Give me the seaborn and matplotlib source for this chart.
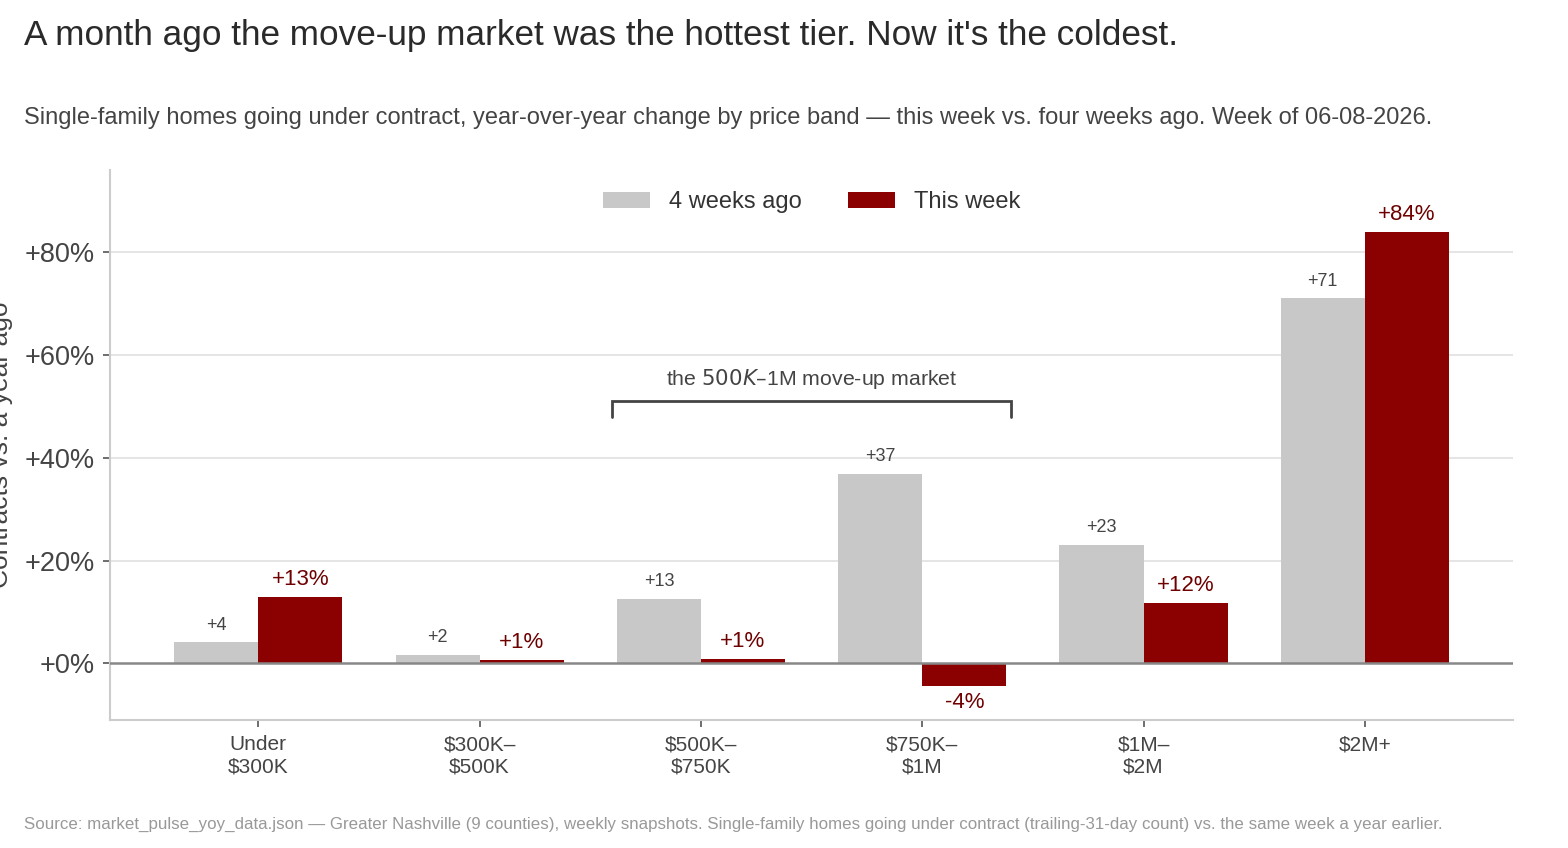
import matplotlib
matplotlib.use("Agg")
import matplotlib.pyplot as plt
import seaborn as sns
import pandas as pd

# Price bands and year-over-year change (%) in contracts
bands = ["Under\n$300K", "$300K–\n$500K", "$500K–\n$750K", "$750K–\n$1M", "$1M–\n$2M", "$2M+"]
four_weeks_ago = [4.1, 1.7, 12.6, 36.9, 23.1, 71.1]
this_week = [13.0, 0.6, 0.8, -4.3, 11.8, 83.9]
series = ["4 weeks ago", "This week"]

grey_labels = ["+4", "+2", "+13", "+37", "+23", "+71"]
red_labels = ["+13%", "+1%", "+1%", "-4%", "+12%", "+84%"]

df = pd.DataFrame({
    "band": bands * 2,
    "series": [series[0]] * len(bands) + [series[1]] * len(bands),
    "value": four_weeks_ago + this_week,
})

sns.set_theme(style="white")
plt.rcParams["font.family"] = ["Liberation Sans", "DejaVu Sans"]

fig = plt.figure(figsize=(15.68, 8.48), dpi=100)
ax = fig.add_axes([0.0702, 0.151, 0.8948, 0.6485])

sns.barplot(
    data=df, x="band", y="value", hue="series",
    order=bands, hue_order=series,
    palette={"4 weeks ago": "#c8c8c8", "This week": "#8b0000"},
    width=0.76, saturation=1, linewidth=0, edgecolor="none", ax=ax, zorder=3,
)

ax.set_xlim(-0.67, 5.67)
ax.set_ylim(-11, 96)
ax.set_yticks([0, 20, 40, 60, 80])
ax.set_yticklabels(["+0%", "+20%", "+40%", "+60%", "+80%"])

# grid + zero line
for y in [20, 40, 60, 80]:
    ax.axhline(y, color="#e3e3e3", lw=1.3, zorder=0)
ax.axhline(0, color="#888888", lw=1.8, zorder=4)

for side in ["top", "right"]:
    ax.spines[side].set_visible(False)
for side in ["left", "bottom"]:
    ax.spines[side].set_color("#cccccc")
    ax.spines[side].set_linewidth(1.5)

ax.tick_params(axis="y", labelsize=19.5, length=5, width=1.2, left=True, pad=6)
ax.tick_params(axis="x", labelsize=15, length=5, width=1.2, bottom=True, pad=6)
for t in ax.get_yticklabels() + ax.get_xticklabels():
    t.set_color("#444444")
ax.tick_params(axis="both", color="#555555")

ax.set_xlabel("")
ax.set_ylabel("Contracts vs. a year ago", fontsize=19, color="#444444")
ax.yaxis.set_label_coords(-0.069, 0.5)

# bar value labels
ax.bar_label(ax.containers[0], labels=grey_labels, padding=6, fontsize=13, color="#444444")
ax.bar_label(ax.containers[1], labels=red_labels, padding=5, fontsize=16, color="#6e0000")

# bracket for the move-up market
ax.plot([1.6, 1.6, 3.4, 3.4], [48, 51, 51, 48], color="#444444", lw=2, zorder=5,
        solid_joinstyle="miter")
ax.text(2.5, 55.3, "the $500K–$1M move-up market", ha="center", va="center",
        fontsize=15.3, color="#444444")

leg = ax.legend(loc="upper center", bbox_to_anchor=(0.5, 1.0), ncol=2, frameon=False,
                fontsize=17, handlelength=2.0, handleheight=0.72, columnspacing=1.95,
                handletextpad=0.8)
for t in leg.get_texts():
    t.set_color("#333333")

fig.text(0.0153, 0.958, "A month ago the move-up market was the hottest tier. Now it's the coldest.",
         fontsize=25.3, color="#2a2a2a", ha="left", va="center")
fig.text(0.0153, 0.861, "Single-family homes going under contract, year-over-year change by price band — "
         "this week vs. four weeks ago. Week of 06-08-2026.",
         fontsize=17, color="#444444", ha="left", va="center")
fig.text(0.0153, 0.028, "Source: market_pulse_yoy_data.json — Greater Nashville (9 counties), weekly snapshots. "
         "Single-family homes going under contract (trailing-31-day count) vs. the same week a year earlier.",
         fontsize=12.2, color="#999999", ha="left", va="center")

fig.savefig("out.png", dpi=100)
